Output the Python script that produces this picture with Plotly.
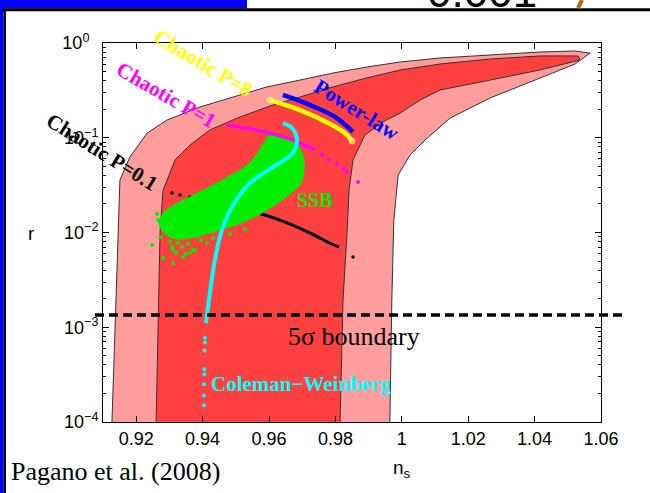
import plotly.graph_objects as go

# ---------------- data (ns, r) ----------------
outer_ns = [0.9127, 0.9136, 0.9145, 0.9151, 0.9181, 0.9233, 0.9293, 0.9392, 0.9492, 0.9594, 0.9693,
            0.9793, 0.9895, 0.9995, 1.0115, 1.0266, 1.0416, 1.0522, 1.0567, 1.0522, 1.0416, 1.0266,
            1.0145, 1.0070, 1.0025, 0.9989, 0.9976, 0.9970, 0.9964]
outer_r = [1e-4, 9.3e-4, 0.0106, 0.0358, 0.0627, 0.112, 0.154, 0.211, 0.269, 0.344, 0.406,
           0.482, 0.558, 0.630, 0.695, 0.746, 0.803, 0.824, 0.783, 0.600, 0.428, 0.263,
           0.161, 0.0946, 0.0658, 0.0405, 0.0135, 1.94e-3, 1e-4]

inner_ns = [0.9260, 0.9266, 0.9272, 0.9281, 0.9317, 0.9362, 0.9422, 0.9513, 0.9603, 0.9693, 0.9793,
            0.9895, 0.9995, 1.0115, 1.0266, 1.0416, 1.0531, 1.0537, 1.0416, 1.0266, 1.0115, 1.0055,
            0.9995, 0.9943, 0.9889, 0.9853, 0.9841, 0.9835, 0.9823, 0.9814]
inner_r = [1e-4, 9.3e-4, 0.0106, 0.0281, 0.0582, 0.0837, 0.121, 0.166, 0.216, 0.269, 0.344,
           0.428, 0.519, 0.600, 0.678, 0.730, 0.730, 0.662, 0.519, 0.406, 0.319, 0.250,
           0.182, 0.147, 0.107, 0.0582, 0.0281, 9.9e-3, 1.94e-3, 1e-4]

ssb_band_ns = [0.9594, 0.9642, 0.9681, 0.9702, 0.9702, 0.9693, 0.9633, 0.9573, 0.9513, 0.9461, 0.9413,
               0.9362, 0.9323, 0.9287, 0.9272, 0.9287, 0.9317, 0.9362, 0.9422, 0.9483, 0.9537, 0.9567,
               0.9582]
ssb_band_r = [0.102, 0.0993, 0.0837, 0.0582, 0.0436, 0.0333, 0.0220, 0.0161, 0.0129, 0.0111, 9.9e-3,
              8.98e-3, 8.75e-3, 0.0101, 0.0129, 0.0161, 0.0191, 0.0231, 0.0295, 0.0385, 0.0504, 0.0658,
              0.0837]
ssb_pts_ns = [0.9266, 0.9248, 0.9281, 0.9311, 0.9308, 0.9362, 0.9341, 0.9293, 0.9413, 0.9371, 0.9302,
              0.9338, 0.9431, 0.9272, 0.9311, 0.9377, 0.9326, 0.9356, 0.9483, 0.9528, 0.9263, 0.9395,
              0.9455, 0.9350, 0.9320]
ssb_pts_r = [0.01355, 7.38e-3, 5.38e-3, 4.76e-3, 7.03e-3, 6.08e-3, 5.51e-3, 0.0106, 7.74e-3, 6.53e-3, 8.0e-3,
             7.03e-3, 8.75e-3, 8.98e-3, 6.53e-3, 6.53e-3, 7.8e-3, 7.6e-3, 9.6e-3, 0.0108, 0.0158, 8.3e-3,
             9.3e-3, 5.9e-3, 6.1e-3]

p8_ns = [0.9603, 0.9693, 0.9784, 0.9829, 0.9850]
p8_r = [0.250, 0.196, 0.140, 0.112, 0.0925]

pl_ns = [0.9642, 0.9723, 0.9799, 0.9853]
pl_r = [0.283, 0.222, 0.166, 0.115]

p1_ns = [0.9473, 0.9573, 0.9663, 0.9739]
p1_r = [0.136, 0.118, 0.097, 0.0743]
p1_dot_ns = [0.9760, 0.9780, 0.9805, 0.9825, 0.9835, 0.9868]
p1_dot_r = [0.066, 0.059, 0.053, 0.047, 0.0436, 0.0341]

p01_dot_ns = [0.9308, 0.9332, 0.9362, 0.9853]
p01_dot_r = [0.0261, 0.0249, 0.0237, 5.5e-3]
p01_ns = [0.9392, 0.9513, 0.9633, 0.9723, 0.9784, 0.9811]
p01_r = [0.0220, 0.0182, 0.0135, 9.9e-3, 7.7e-3, 7.0e-3]

cw_ns = [0.9642, 0.9669, 0.9684, 0.9672, 0.9612, 0.9543, 0.9492, 0.9458, 0.9437, 0.9422, 0.9410]
cw_r = [0.143, 0.127, 0.0946, 0.069, 0.0491, 0.0333, 0.0195, 0.0106, 5.13e-3, 2.30e-3, 1.11e-3]
cw_dot_ns = [0.9407, 0.9407, 0.9406, 0.9405, 0.9405, 0.9404, 0.9404, 0.9404]
cw_dot_r = [7.7e-4, 6.9e-4, 5.7e-4, 3.6e-4, 3.2e-4, 2.5e-4, 1.9e-4, 1.5e-4]

boundary_r = 1.35e-3

x_ticks = [0.92, 0.94, 0.96, 0.98, 1.0, 1.02, 1.04, 1.06]
x_labels = ["0.92", "0.94", "0.96", "0.98", "1", "1.02", "1.04", "1.06"]
y_ticks = [1e-4, 1e-3, 1e-2, 1e-1, 1]
y_labels = ["10<sup>−4</sup>", "10<sup>−3</sup>", "10<sup>−2</sup>", "10<sup>−1</sup>",
            "10<sup>0</sup>\u2002"]
y_minor = [m * 10.0 ** e for e in range(-4, 0) for m in range(2, 10)]

# ---------------- figure ----------------
W, H = 650, 493
PL, PR, PT, PB = 103, 601, 43, 422

def px(x):
    return (x - PL) / (PR - PL)

def py(y):
    return (PB - y) / (PB - PT)

GREEN = "#00EE00"

fig = go.Figure()
fig.add_trace(go.Scatter(x=outer_ns, y=outer_r, fill="toself", fillcolor="#FF9C9C",
                         line=dict(color="#333333", width=1), mode="lines", hoverinfo="skip"))
fig.add_trace(go.Scatter(x=inner_ns, y=inner_r, fill="toself", fillcolor="#FF4040",
                         line=dict(color="#333333", width=1), mode="lines", hoverinfo="skip"))
fig.add_trace(go.Scatter(x=p01_ns, y=p01_r, mode="lines", line=dict(color="black", width=3, shape="spline")))
fig.add_trace(go.Scatter(x=p01_dot_ns, y=p01_dot_r, mode="markers", marker=dict(color="black", size=3.5)))
fig.add_trace(go.Scatter(x=ssb_band_ns, y=ssb_band_r, fill="toself", fillcolor=GREEN,
                         line=dict(color=GREEN, width=3, shape="spline"), mode="lines"))
fig.add_trace(go.Scatter(x=ssb_pts_ns, y=ssb_pts_r, mode="markers",
                         marker=dict(color=GREEN, size=4)))
fig.add_trace(go.Scatter(x=p1_ns, y=p1_r, mode="lines", line=dict(color="#FF00FF", width=3, shape="spline")))
fig.add_trace(go.Scatter(x=p1_dot_ns, y=p1_dot_r, mode="markers", marker=dict(color="#FF00FF", size=4)))
fig.add_trace(go.Scatter(x=p8_ns, y=p8_r, mode="lines+markers",
                         line=dict(color="#FFFF00", width=4.5, shape="spline"),
                         marker=dict(color="#FFFF00", size=[6, 0, 0, 0, 6])))
fig.add_trace(go.Scatter(x=pl_ns, y=pl_r, mode="lines", line=dict(color="#0000FF", width=4.5, shape="spline")))
fig.add_trace(go.Scatter(x=cw_ns, y=cw_r, mode="lines", line=dict(color="#00FFFF", width=4, shape="spline")))
fig.add_trace(go.Scatter(x=cw_dot_ns, y=cw_dot_r, mode="markers", marker=dict(color="#00FFFF", size=4)))

shapes = [
    # slide decorations
    dict(type="rect", xref="paper", yref="paper", x0=px(0), x1=px(247), y0=py(0), y1=py(8.5),
         fillcolor="#0000FF", line=dict(width=0), layer="above"),
    dict(type="rect", xref="paper", yref="paper", x0=px(0), x1=px(3.4), y0=py(0), y1=py(H),
         fillcolor="#0000FF", line=dict(width=0), layer="above"),
    dict(type="line", xref="paper", yref="paper", x0=px(3), x1=px(W), y0=py(9.8), y1=py(9.8),
         line=dict(color="black", width=3), layer="above"),
    dict(type="line", xref="paper", yref="paper", x0=px(4.7), x1=px(4.7), y0=py(9), y1=py(H),
         line=dict(color="black", width=2.5), layer="above"),
    dict(type="line", xref="paper", yref="paper", x0=px(582), x1=px(578), y0=py(0), y1=py(8),
         line=dict(color="#B06A10", width=4), layer="above"),
    # 5 sigma boundary
    dict(type="line", xref="paper", yref="y", x0=px(95), x1=px(626), y0=boundary_r, y1=boundary_r,
         line=dict(color="black", width=3.5, dash="9px,5px"), layer="above"),
]

serif = "Liberation Serif"
sans = "Liberation Sans"

def ann(text, x, y, color, size, angle=0, bold=True, font=serif, xanchor="center"):
    t = "<b>%s</b>" % text if bold else text
    return dict(text=t, x=px(x), y=py(y), xref="paper", yref="paper", showarrow=False,
                textangle=angle, xanchor=xanchor, yanchor="middle",
                font=dict(family=font, size=size, color=color))

annotations = [
    ann("Chaotic P=8", 203, 63, "#FFFF00", 21, 31),
    ann("Chaotic P=1", 166, 95, "#FF00FF", 21, 30),
    ann("Chaotic P=0.1", 102, 152, "black", 21, 32),
    ann("Power-law", 357, 110, "#0000FF", 21, 32),
    ann("SSB", 315, 200, GREEN, 20),
    ann("5σ boundary", 354, 336, "black", 26, bold=False),
    ann("Coleman−Weinberg", 301, 384, "#00FFFF", 21),
    ann("Pagano et al. (2008)", 9, 471, "black", 26, bold=False, xanchor="left"),
    ann("r", 31, 233, "black", 19, bold=False, font=sans),
    ann("n<sub>s</sub>", 402, 469, "black", 19, bold=False, font=sans),
    dict(text="0.001", x=px(482), y=py(18), xref="paper", yref="paper", showarrow=False,
         xanchor="center", yanchor="bottom", font=dict(family=sans, size=44, color="black")),
]

fig.update_layout(
    width=W, height=H,
    margin=dict(l=PL, r=W - PR, t=PT, b=H - PB, pad=0),
    paper_bgcolor="white", plot_bgcolor="white",
    showlegend=False,
    shapes=shapes, annotations=annotations,
    xaxis=dict(range=[0.91, 1.06], tickvals=x_ticks, ticktext=x_labels, ticks="inside", ticklen=6,
               tickcolor="black", showline=True, linecolor="black", linewidth=1, mirror="allticks",
               showgrid=False, zeroline=False, tickfont=dict(family=sans, size=18, color="black")),
    yaxis=dict(type="log", range=[-4, 0], tickvals=y_ticks, ticktext=y_labels, ticks="inside", ticklen=6,
               tickcolor="black", showline=True, linecolor="black", linewidth=1, mirror="allticks",
               showgrid=False, zeroline=False, tickfont=dict(family=sans, size=18, color="black"),
               minor=dict(tickvals=y_minor, ticks="inside", ticklen=3, tickcolor="black")),
)

fig.write_html("out.html", config={"displayModeBar": False},
               post_script="document.body.style.margin='0';document.body.style.overflow='hidden';")
